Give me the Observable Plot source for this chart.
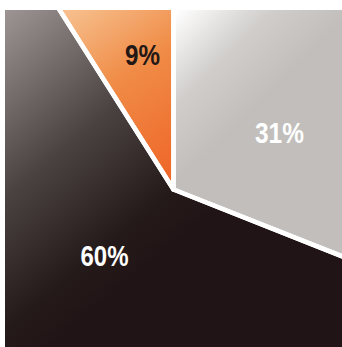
<!DOCTYPE html>
<html><head><meta charset="utf-8">
<script src="https://cdn.jsdelivr.net/npm/d3@7"></script>
<script src="https://cdn.jsdelivr.net/npm/@observablehq/plot@0.6"></script>
<style>html,body{margin:0;padding:0;background:#fff;overflow:hidden}</style>
</head><body><div id="chart"></div>
<script>
// Data (clockwise from 12 o'clock)
const categories = ["Gray", "Dark", "Orange"];
const values = [31, 60, 9];
const labels = ["31%", "60%", "9%"];

// Styling / layout
const gradients = [
  {id: "gGray", x1: 175, y1: 10, x2: 262, y2: 98, stops: [[0, "#ffffff"], [0.55, "#d0cdcb"], [1, "#c1bebc"]]},
  {id: "gDark", x1: 5, y1: 10, x2: 190, y2: 230, stops: [[0, "#9d9593"], [0.5, "#4a4241"], [0.85, "#251a1a"], [1, "#211416"]]},
  {id: "gOrange", x1: 60, y1: 10, x2: 170, y2: 175, stops: [[0, "#f7c291"], [0.45, "#f08c47"], [1, "#ef6729"]]}
];
const labelColors = ["#ffffff", "#ffffff", "#231815"];
const labelPos = [[106, 56], [-69, -67], [-31, 134]]; // offsets from pie centre, data units
const labelWidths = [49, 48, 35]; // condensed label widths in px
const R = 800;

const arcs = d3.pie().sort(null).value(d => d)(values);
const wedges = arcs.map((a, i) => {
  const pts = [{cat: categories[i], x: 0, y: 0}];
  const n = Math.max(2, Math.ceil((a.endAngle - a.startAngle) / 0.02));
  for (let k = 0; k <= n; k++) {
    const t = a.startAngle + (a.endAngle - a.startAngle) * k / n;
    pts.push({cat: categories[i], x: R * Math.sin(t), y: R * Math.cos(t)});
  }
  pts.push({cat: categories[i], x: 0, y: 0});
  return pts;
});
const allPts = wedges.flat();
const labelData = labels.map((l, i) => ({label: l, x: labelPos[i][0], y: labelPos[i][1], c: labelColors[i], w: labelWidths[i]}));

const defsMark = () => {
  const g = d3.create("svg:defs");
  for (const gr of gradients) {
    const lg = g.append("linearGradient").attr("id", gr.id).attr("gradientUnits", "userSpaceOnUse")
      .attr("x1", gr.x1).attr("y1", gr.y1).attr("x2", gr.x2).attr("y2", gr.y2);
    gr.stops.forEach(([o, c]) => lg.append("stop").attr("offset", o).attr("stop-color", c));
  }
  return g.node();
};

const chart = Plot.plot({
  width: 342,
  height: 347,
  marginLeft: 5,
  marginTop: 10,
  marginRight: 0,
  marginBottom: 0,
  x: {domain: [-168, 169], axis: null},
  y: {domain: [-158, 179], axis: null},
  color: {type: "identity"},
  style: {background: "transparent", overflow: "hidden"},
  marks: [
    defsMark,
    ...wedges.map((w, i) => Plot.line(w, {x: "x", y: "y", fill: `url(#${gradients[i].id})`, stroke: "none", clip: "frame", curve: "linear"})),
    Plot.line(allPts, {x: "x", y: "y", z: "cat", stroke: "#ffffff", strokeWidth: 4.5, strokeLinejoin: "miter", clip: "frame"}),
    Plot.text(labelData, {x: "x", y: "y", text: "label", fill: "c", fontSize: 29, fontWeight: "bold",
      fontFamily: "'Liberation Sans', Arial, sans-serif", textAnchor: "middle", ariaLabel: "label"})
  ]
});
// compress the labels horizontally to mimic the condensed typeface
d3.select(chart).selectAll("text").each(function() {
  const t = this.textContent;
  const d = labelData.find(e => e.label === t);
  if (d) d3.select(this).attr("textLength", d.w).attr("lengthAdjust", "spacingAndGlyphs");
});
document.getElementById("chart").appendChild(chart);
</script>
</body></html>
